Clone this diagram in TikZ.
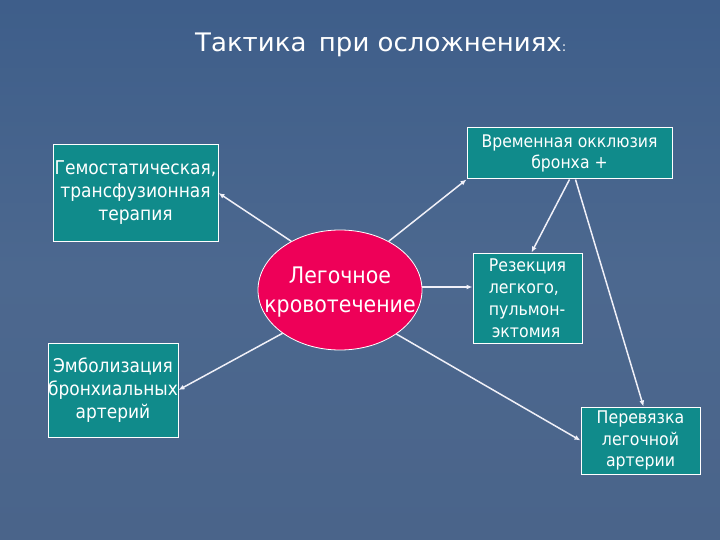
\documentclass[tikz,border=0pt]{standalone}
\usepackage{fontspec}
\setmainfont{DejaVu Sans}[FakeStretch=0.9]
\newfontfamily\titlefont{DejaVu Sans}[FakeStretch=1.02]
\usetikzlibrary{shapes.geometric,arrows.meta}
\definecolor{bgtop}{RGB}{62,94,138}
\definecolor{bgmid}{RGB}{76,104,143}
\definecolor{bgbot}{RGB}{74,100,138}
\definecolor{boxfill}{RGB}{16,139,139}
\definecolor{ellfill}{RGB}{238,0,88}
\definecolor{arrcol}{RGB}{240,240,248}
\tikzset{
  box/.style={draw=white, line width=1pt, fill=boxfill, text=white, inner sep=0pt, align=center},
  arr/.style={draw=arrcol, line width=1.5pt, -{Latex[length=6pt,width=5pt]}},
}
\begin{document}
\begin{tikzpicture}[x=1pt,y=-1pt]
\shade[top color=bgtop, bottom color=bgbot, middle color=bgmid] (0,0) rectangle (720,540);
\useasboundingbox (0,0) rectangle (720,540);
\node[text=white, font=\titlefont\fontsize{25.5}{30}\selectfont, anchor=base west, inner sep=0pt] (title) at (195,52) {Тактика\, при осложнениях{\fontsize{13}{16}\selectfont:}};
\node[box, minimum width=165, minimum height=96, font=\fontsize{19}{23}\selectfont] (b1) at (135.5,193) {Гемостатическая,\\трансфузионная\\терапия};
\node[box, minimum width=205, minimum height=51, font=\fontsize{17.4}{20.5}\selectfont] (b2) at (569.5,153.5) {Временная окклюзия\\бронха +};
\node[box, minimum width=109, minimum height=90, align=left, font=\fontsize{17.5}{22}\selectfont] (b3) at (527.5,298) {Резекция\\легкого,\\пульмон-\\\,эктомия};
\node[box, minimum width=119, minimum height=67, font=\fontsize{17.5}{21.5}\selectfont] (b4) at (640.5,440.5) {Перевязка\\легочной\\артерии};
\node[box, minimum width=130, minimum height=94, font=\fontsize{18.9}{23}\selectfont] (b5) at (113,390) {Эмболизация\\бронхиальных\\артерий};
\node[ellipse, draw=white, line width=0.8pt, fill=ellfill, minimum width=164, minimum height=120, inner sep=0pt] (ell) at (340,290) {};
\node[text=white, align=center, inner sep=0pt, font=\fontsize{22.8}{29}\selectfont] (ellt) at (340,292) {Легочное\\кровотечение};
\draw[arr] (ell.135) -- (b1.east);
\draw[arr] (ell.45) -- (b2.south west);
\draw[arr] ([yshift=3pt]ell.east) -- ([yshift=3pt]ell.east -| b3.west);
\draw[arr] (ell.217) -- (b5.east);
\draw[arr] (ell.322) -- (b4.west);
\draw[arr] (b2.south) -- ([xshift=4pt]b3.north);
\draw[arr] ([xshift=6pt]b2.south) -- ([xshift=3pt]b4.north);
\end{tikzpicture}
\end{document}
